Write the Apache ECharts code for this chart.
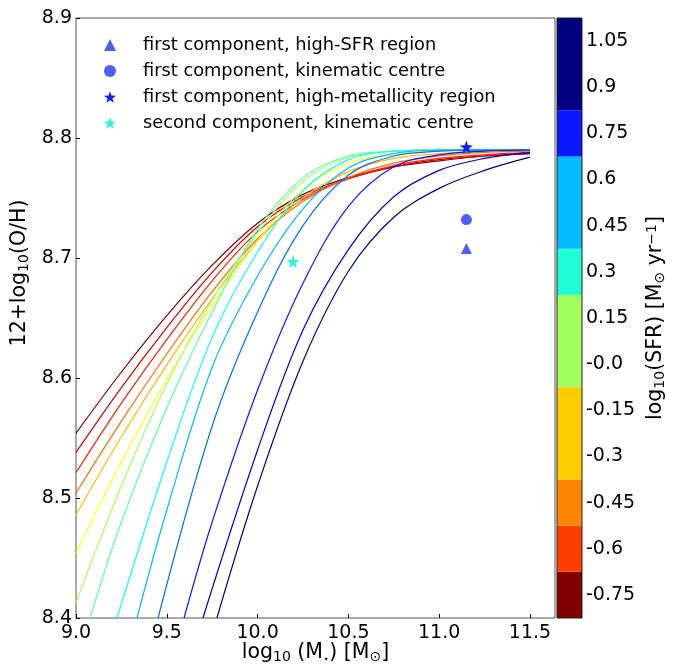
<!DOCTYPE html>
<html><head><meta charset="utf-8">
<script src="https://cdn.jsdelivr.net/npm/echarts@6/dist/echarts.min.js"></script>
<style>html,body{margin:0;padding:0;background:#fff}#c{width:675px;height:666px}</style>
</head><body><div id="c"></div>
<script>
// ---- data ----
const massTicks = [9.0, 9.5, 10.0, 10.5, 11.0, 11.5];
const cbTickValues = [1.05, 0.9, 0.75, 0.6, 0.45, 0.3, 0.15, 0.0, -0.15, -0.3, -0.45, -0.6, -0.75];
const cbTickLabels = ['1.05', '0.9', '0.75', '0.6', '0.45', '0.3', '0.15', '-0.0', '-0.15', '-0.3', '-0.45', '-0.6', '-0.75'];
const cbBounds = [-0.825, -0.675, -0.525, -0.375, -0.075, 0.225, 0.375, 0.675, 0.825, 1.125];
const cbColors = ['#800000', '#ff3e00', '#ff8600', '#ffcc00', '#a0ff5a', '#1effd8', '#00bbff', '#0a18ff', '#000080'];
const curveColors = ['#800000', '#ce0000', '#ff1d00', '#ff6c00', '#ffba00', '#f5ff0a', '#a7ff58', '#58ffa7', '#0afff5', '#00baff', '#006cff', '#001dff', '#0000ce', '#000080'];

const fmrCurve0 = [[9.0,8.554],[9.25,8.605],[9.5,8.652],[9.75,8.694],[10.0,8.729],[10.25,8.753],[10.5,8.767],[10.75,8.776],[11.0,8.781],[11.25,8.785],[11.5,8.787]];
const fmrCurve1 = [[9.0,8.538],[9.25,8.592],[9.5,8.642],[9.75,8.688],[10.0,8.726],[10.25,8.751],[10.5,8.766],[10.75,8.776],[11.0,8.782],[11.25,8.785],[11.5,8.787]];
const fmrCurve2 = [[9.0,8.521],[9.25,8.579],[9.5,8.632],[9.75,8.681],[10.0,8.722],[10.25,8.749],[10.5,8.766],[10.75,8.777],[11.0,8.783],[11.25,8.786],[11.5,8.788]];
const fmrCurve3 = [[9.0,8.504],[9.25,8.564],[9.5,8.62],[9.75,8.672],[10.0,8.716],[10.25,8.747],[10.5,8.767],[10.75,8.779],[11.0,8.785],[11.25,8.788],[11.5,8.789]];
const fmrCurve4 = [[9.0,8.486],[9.25,8.551],[9.5,8.611],[9.75,8.666],[10.0,8.714],[10.25,8.75],[10.5,8.772],[10.75,8.783],[11.0,8.787],[11.25,8.789],[11.5,8.79]];
const fmrCurve5 = [[9.0,8.454],[9.25,8.53],[9.5,8.599],[9.75,8.66],[10.0,8.714],[10.25,8.757],[10.5,8.779],[10.75,8.787],[11.0,8.789],[11.25,8.79],[11.5,8.79]];
const fmrCurve6 = [[9.0,8.413],[9.25,8.51],[9.5,8.595],[9.75,8.665],[10.0,8.721],[10.25,8.764],[10.5,8.784],[10.75,8.789],[11.0,8.79],[11.25,8.79],[11.5,8.79]];
const fmrCurve7 = [[9.077,8.4],[9.25,8.48],[9.5,8.575],[9.75,8.655],[10.0,8.724],[10.25,8.767],[10.5,8.785],[10.75,8.789],[11.0,8.79],[11.25,8.79],[11.5,8.79]];
const fmrCurve8 = [[9.226,8.4],[9.5,8.53],[9.75,8.634],[10.0,8.705],[10.25,8.756],[10.5,8.782],[10.75,8.789],[11.0,8.79],[11.25,8.79],[11.5,8.79]];
const fmrCurve9 = [[9.336,8.4],[9.5,8.49],[9.75,8.609],[10.0,8.685],[10.25,8.741],[10.5,8.775],[10.75,8.787],[11.0,8.79],[11.25,8.79],[11.5,8.79]];
const fmrCurve10 = [[9.452,8.4],[9.75,8.56],[10.0,8.655],[10.25,8.727],[10.5,8.769],[10.75,8.785],[11.0,8.789],[11.25,8.79],[11.5,8.79]];
const fmrCurve11 = [[9.595,8.4],[9.75,8.48],[10.0,8.59],[10.25,8.679],[10.5,8.743],[10.75,8.776],[11.0,8.786],[11.25,8.789],[11.5,8.79]];
const fmrCurve12 = [[9.699,8.4],[10.0,8.54],[10.25,8.64],[10.5,8.707],[10.75,8.751],[11.0,8.773],[11.25,8.783],[11.5,8.788]];
const fmrCurve13 = [[9.776,8.4],[10.0,8.51],[10.25,8.614],[10.5,8.689],[10.75,8.734],[11.0,8.758],[11.25,8.773],[11.5,8.784]];
const fmrCurves = [fmrCurve0, fmrCurve1, fmrCurve2, fmrCurve3, fmrCurve4, fmrCurve5, fmrCurve6, fmrCurve7, fmrCurve8, fmrCurve9, fmrCurve10, fmrCurve11, fmrCurve12, fmrCurve13];

const pointNames = ['first component, high-SFR region', 'first component, kinematic centre', 'first component, high-metallicity region', 'second component, kinematic centre'];
const pointValues = [[11.15, 8.708], [11.15, 8.732], [11.15, 8.7925], [10.195, 8.697]];
const pointColors = ['#4f5ff6', '#4f5ff6', '#0a1eff', '#2ef5d2'];

// ---- chart ----
const FONT = 'DejaVu Sans';
const starPath = 'path://M0,-10L2.35,-3.24L9.51,-3.09L3.8,1.24L5.88,8.09L0,4L-5.88,8.09L-3.8,1.24L-9.51,-3.09L-2.35,-3.24Z';
const pointSymbols = ['triangle', 'circle', starPath, starPath];
const pointSizes = [11, 11, 13, 13];

const chart = echarts.init(document.getElementById('c'), null, {renderer: 'canvas'});
const series = [];
fmrCurves.forEach((c, i) => {
  series.push({
    type: 'line', xAxisIndex: 0, yAxisIndex: 0, data: c, showSymbol: false, silent: true,
    smooth: 0.35,
    lineStyle: {color: curveColors[i], width: 1.2}, clip: true, z: 2
  });
});
pointValues.forEach((p, i) => {
  series.push({
    name: pointNames[i], type: 'scatter', xAxisIndex: 0, yAxisIndex: 0, data: [p],
    symbol: pointSymbols[i], symbolSize: pointSizes[i], itemStyle: {color: pointColors[i], opacity: 1}, z: 5
  });
});
const cbData = cbColors.map((col, i) => [cbBounds[i], cbBounds[i + 1], i]);
series.push({
  type: 'custom', xAxisIndex: 1, yAxisIndex: 1, data: cbData, silent: true,
  renderItem: function (params, api) {
    const lo = api.coord([0, api.value(0)]);
    const hi = api.coord([1, api.value(1)]);
    return {type: 'rect', shape: {x: lo[0], y: hi[1], width: hi[0] - lo[0], height: lo[1] - hi[1]},
      style: {fill: cbColors[api.value(2)]}};
  }
});

const sub = {fontSize: 14, fontFamily: FONT, color: '#000', verticalAlign: 'bottom', padding: [8, 0, 0, 0]};
const sup = {fontSize: 14, fontFamily: FONT, color: '#000', verticalAlign: 'top', padding: [0, 0, 8, 0]};

chart.setOption({
  animation: false,
  backgroundColor: '#fff',
  textStyle: {fontFamily: FONT},
  grid: [
    {left: 76, top: 18, width: 479, height: 600, show: true, borderColor: '#555', borderWidth: 1, backgroundColor: 'transparent', outerBoundsMode: 'none', containLabel: false},
    {left: 557, top: 18, width: 25, height: 600, show: true, borderColor: '#222', borderWidth: 1, backgroundColor: 'transparent', z: 10, outerBoundsMode: 'none', containLabel: false}
  ],
  legend: {
    left: 99, top: 30, orient: 'vertical', itemGap: 6, itemWidth: 12, itemHeight: 12,
    data: pointNames.map((n, i) => ({name: n, icon: pointSymbols[i]})),
    textStyle: {fontSize: 17.8, fontFamily: FONT, color: '#000', lineHeight: 20, padding: [0, 0, 0, 22]},
    selectedMode: false
  },
  xAxis: [
    {type: 'value', gridIndex: 0, min: 9.0, max: 11.638,
      axisLine: {show: false}, splitLine: {show: false},
      axisTick: {show: true, inside: true, length: 4, lineStyle: {color: '#000'}, customValues: massTicks},
      axisLabel: {fontSize: 19, color: '#000', margin: 6, customValues: massTicks, formatter: v => v.toFixed(1)},
      name: 'log{sub|10} (M{sm|⋆}) [M{sub|⊙}]', nameLocation: 'middle', nameGap: 24, nameMoveOverlap: false,
      nameTextStyle: {fontSize: 20.5, color: '#000', rich: {sub: sub, sm: {fontSize: 10, verticalAlign: 'bottom', padding: [7, 0, 0, 0], color: '#000'}}}
    },
    {type: 'value', gridIndex: 1, min: 0, max: 1, show: false}
  ],
  yAxis: [
    {type: 'value', gridIndex: 0, min: 8.4, max: 8.9, interval: 0.1,
      axisLine: {show: false}, splitLine: {show: false},
      axisTick: {show: true, inside: true, length: 4, lineStyle: {color: '#000'}},
      axisLabel: {fontSize: 19, color: '#000', margin: 4, formatter: v => v.toFixed(1)},
      name: '12+log{sub|10}(O/H)', nameLocation: 'middle', nameGap: 42, nameRotate: 90,
      nameTextStyle: {fontSize: 20.5, color: '#000', padding: [0, 0, 0, 90], rich: {sub: sub}}
    },
    {type: 'value', gridIndex: 1, min: -0.825, max: 1.125, position: 'right',
      axisLine: {show: false}, splitLine: {show: false},
      axisTick: {show: true, inside: false, length: 3, lineStyle: {color: '#000'}, customValues: cbTickValues},
      axisLabel: {fontSize: 19, color: '#000', margin: 4, customValues: cbTickValues,
        formatter: function (v) { let k = 0; let best = 1e9; cbTickValues.forEach((t, j) => { if (Math.abs(t - v) < best) { best = Math.abs(t - v); k = j; } }); return cbTickLabels[k]; }},
      name: 'log{sub|10}(SFR) [M{sub|⊙} yr{sup|−1}]', nameLocation: 'middle', nameGap: 63, nameRotate: 90,
      nameTextStyle: {fontSize: 20.5, color: '#000', rich: {sub: sub, sup: sup}}
    }
  ],
  series: series
});
</script></body></html>
